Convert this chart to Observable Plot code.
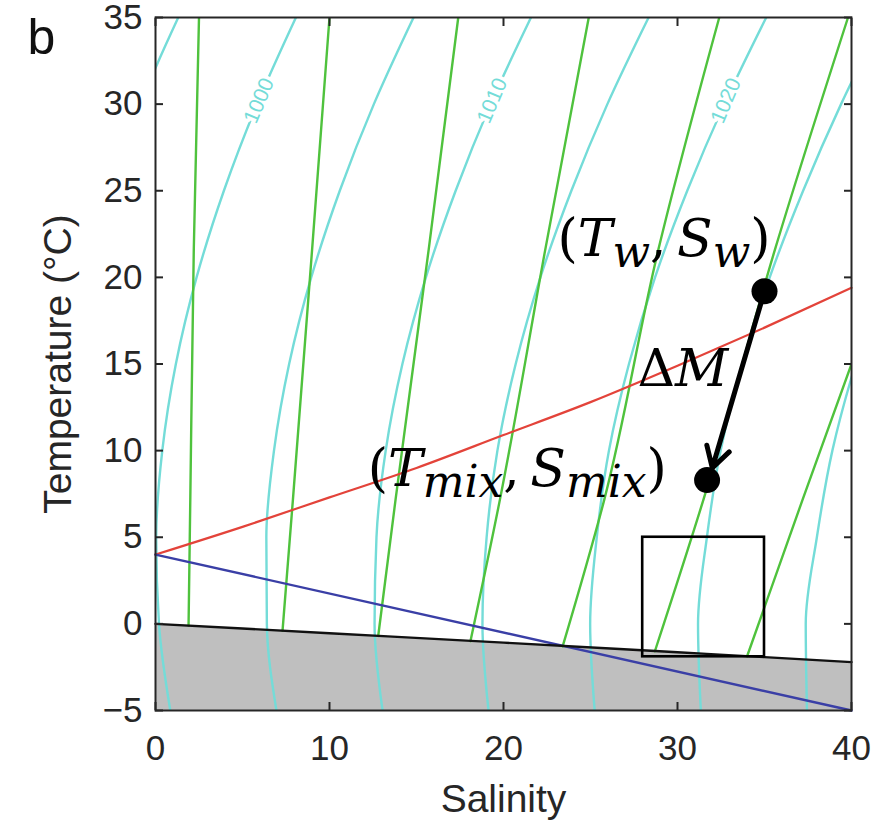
<!DOCTYPE html>
<html><head><meta charset="utf-8">
<script src="https://cdn.jsdelivr.net/npm/d3@7"></script>
<script src="https://cdn.jsdelivr.net/npm/@observablehq/plot@0.6"></script>
<style>
body{margin:0;background:#fff;}
#chart{width:887px;height:822px;}
</style></head><body><div id="chart"></div>
<script>
// ---------- data ----------
const xDomain = [0, 40];
const yDomain = [-5, 35];
const xTicks = [0, 10, 20, 30, 40];
const yTicks = [-5, 0, 5, 10, 15, 20, 25, 30, 35];
const xLabel = "Salinity";
const yLabel = "Temperature (°C)";
const panelLetter = "b";

// density contours (kg/m3): salinity at each temperature
const contourT = [-5, 0, 5, 10, 15, 20, 25, 30, 35];
const rho995T = [30, 32.5, 35];
const rho995S = [-0.87, 0.18, 1.31];
const rho1000S = [0.85, 0.20, 0.04, 0.39, 1.17, 2.36, 3.93, 5.84, 8.07];
const rho1005S = [6.95, 6.40, 6.37, 6.81, 7.68, 8.95, 10.59, 12.55, 14.83];
const rho1010S = [13.05, 12.59, 12.70, 13.23, 14.19, 15.54, 17.25, 19.26, 21.58];
const rho1015S = [19.14, 18.79, 19.03, 19.65, 20.70, 22.12, 23.90, 25.97, 28.34];
const rho1020S = [25.24, 24.98, 25.36, 26.06, 27.21, 28.71, 30.56, 32.69, 35.10];
const rho1025S = [31.34, 31.18, 31.69, 32.48, 33.72, 35.30, 37.22, 39.40, 41.85];
const rho1030S = [37.44, 37.37, 38.01, 38.90, 40.23, 41.89, 43.88, 46.10, 48.60];

// contour labels
const contourLabelText = ["1000", "1010", "1020"];
const contourLabelS = [5.95, 19.35, 32.78];
const contourLabelT = [30.2, 30.2, 30.2];

// green lines
const green1S = [1.9, 2.0, 2.2, 2.5];   const green1T = [-0.1, 7.2, 21.6, 35];
const green2S = [7.3, 7.9, 9.0, 10.0];  const green2T = [-0.4, 7.2, 21.6, 35];
const green3S = [12.8, 13.8, 15.7, 17.4]; const green3T = [-0.7, 7.2, 21.6, 35];
const green4S = [18.1, 19.8, 22.4, 24.9]; const green4T = [-1.0, 7.2, 21.6, 35];
const green5S = [23.4, 25.8, 28.9, 32.4]; const green5T = [-1.3, 7.2, 21.6, 35];
const green6S = [28.7, 31.5, 35.6, 39.8]; const green6T = [-1.58, 7.2, 21.6, 35];
const green7S = [34.0, 37.2, 40.0];     const green7T = [-1.87, 7.2, 15.0];

// freezing line
const freezeS = [0, 10, 20, 30, 35, 40];
const freezeT = [0, -0.54, -1.08, -1.64, -1.92, -2.21];
// temperature of maximum density (blue)
const tmdS = [0, 40];
const tmdT = [4.0, -5.0];
// red line
const redS = [0, 5, 10, 15, 20, 25, 30, 35, 40];
const redT = [4.0, 5.6, 7.3, 9.0, 10.9, 12.8, 14.9, 17.1, 19.4];
// box
const boxS = [28, 35];
const boxT = [-1.9, 5];
// points
const pointName = ["w", "mix"];
const pointS = [35.0, 31.7];
const pointT = [19.2, 8.3];
const arrowEndS = 32.0, arrowEndT = 9.0;
// annotations
const annoText = ["(T_w,\u2009S_w)", "ΔM", "(T_mix,\u2009S_mix)"];
const annoS = [23.1, 27.7, 12.2];
const annoT = [22.2, 14.7, 8.9];

// ---------- tables ----------
const zipLine = (id, S, T) => S.map((s, i) => ({id, S: s, T: T[i]}));
const contours = [
  ...zipLine(995, rho995S, rho995T),
  ...zipLine(1000, rho1000S, contourT),
  ...zipLine(1005, rho1005S, contourT),
  ...zipLine(1010, rho1010S, contourT),
  ...zipLine(1015, rho1015S, contourT),
  ...zipLine(1020, rho1020S, contourT),
  ...zipLine(1025, rho1025S, contourT),
  ...zipLine(1030, rho1030S, contourT)
];
const greens = [
  ...zipLine(1, green1S, green1T), ...zipLine(2, green2S, green2T),
  ...zipLine(3, green3S, green3T), ...zipLine(4, green4S, green4T),
  ...zipLine(5, green5S, green5T), ...zipLine(6, green6S, green6T),
  ...zipLine(7, green7S, green7T)
];
const freeze = zipLine("f", freezeS, freezeT);
const tmd = zipLine("m", tmdS, tmdT);
const red = zipLine("r", redS, redT);
const labels = contourLabelText.map((t, i) => ({t, S: contourLabelS[i], T: contourLabelT[i]}));
const pts = pointName.map((n, i) => ({n, S: pointS[i], T: pointT[i]}));
const annos = annoText.map((t, i) => ({t, S: annoS[i], T: annoT[i]}));
const box = [{S1: boxS[0], S2: boxS[1], T1: boxT[0], T2: boxT[1]}];
const arrow = [{S1: pointS[0], T1: pointT[0], S2: arrowEndS, T2: arrowEndT}];

const sans = "Liberation Sans, Arial, Helvetica, sans-serif";
const axisColor = "#262626";
const cyan = "#74dcd8";
const green = "#4fc23d";
const tk = 8; // inward tick length
const noLabel = () => "";

const chart = Plot.plot({
  width: 887, height: 822,
  marginLeft: 155, marginRight: 36, marginTop: 17, marginBottom: 112,
  style: {fontFamily: sans, background: "white", overflow: "visible"},
  x: {domain: xDomain},
  y: {domain: yDomain},
  marks: [
    Plot.areaY(freeze, {x: "S", y1: yDomain[0], y2: "T", fill: "#bfbfbf"}),
    Plot.line(contours, {x: "S", y: "T", z: "id", stroke: cyan, strokeWidth: 2.4, curve: "monotone-y", clip: true}),
    Plot.text(labels, {x: "S", y: "T", text: "t", rotate: -67, fontSize: 21, fill: cyan, stroke: "white", strokeWidth: 7, fontFamily: sans}),
    Plot.line(greens, {x: "S", y: "T", z: "id", stroke: green, strokeWidth: 2.4, curve: "monotone-y", clip: true}),
    Plot.line(red, {x: "S", y: "T", stroke: "#e3433a", strokeWidth: 2.2, curve: "monotone-x"}),
    Plot.line(tmd, {x: "S", y: "T", stroke: "#3a3fa6", strokeWidth: 2.4}),
    Plot.line(freeze, {x: "S", y: "T", stroke: "#111", strokeWidth: 2.4, curve: "monotone-x"}),
    Plot.rect(box, {x1: "S1", x2: "S2", y1: "T1", y2: "T2", fill: "none", stroke: "black", strokeWidth: 2.6}),
    Plot.frame({stroke: axisColor, strokeWidth: 2}),
    // tick labels
    Plot.axisX({anchor: "bottom", ticks: xTicks, tickSize: 0, tickPadding: 25, fontSize: 35, label: null, color: axisColor}),
    Plot.axisY({anchor: "left", ticks: yTicks, tickSize: 0, tickPadding: 13, fontSize: 35, label: null, color: axisColor}),
    // inward tick marks on all four sides
    Plot.axisX({anchor: "bottom", ticks: xTicks, tickSize: tk, dy: -tk, tickFormat: noLabel, label: null, color: axisColor, strokeWidth: 2}),
    Plot.axisX({anchor: "top", ticks: xTicks, tickSize: tk, dy: tk, tickFormat: noLabel, label: null, color: axisColor, strokeWidth: 2}),
    Plot.axisY({anchor: "left", ticks: yTicks, tickSize: tk, dx: tk, tickFormat: noLabel, label: null, color: axisColor, strokeWidth: 2}),
    Plot.axisY({anchor: "right", ticks: yTicks, tickSize: tk, dx: -tk, tickFormat: noLabel, label: null, color: axisColor, strokeWidth: 2}),
    Plot.text([xLabel], {frameAnchor: "bottom", textAnchor: "middle", lineAnchor: "middle", text: d => d, dy: 89, fontSize: 39, fill: axisColor}),
    Plot.text([yLabel], {frameAnchor: "left", textAnchor: "middle", lineAnchor: "middle", text: d => d, rotate: -90, dx: -97, fontSize: 39, fill: axisColor}),
    Plot.text([panelLetter], {frameAnchor: "top-left", textAnchor: "middle", lineAnchor: "middle", text: d => d, dx: -114, dy: 20, fontSize: 50, fill: "#111"}),
    Plot.arrow(arrow, {x1: "S1", y1: "T1", x2: "S2", y2: "T2", stroke: "black", strokeWidth: 5, headLength: 7, insetStart: 10}),
    Plot.dot(pts, {x: "S", y: "T", r: 13, fill: "black"}),
    Plot.text(annos, {x: "S", y: "T", text: "t", textAnchor: "start", lineAnchor: "middle", fontSize: 52, fill: "black", fontFamily: "DejaVu Serif, serif"})
  ]
});

// math-style formatting: italic letters, upright punctuation, subscripts
const NS = "http://www.w3.org/2000/svg";
d3.select(chart).selectAll("text").each(function () {
  const s = this.textContent;
  if (!(s.includes("_") || s.includes("Δ"))) return;
  this.textContent = "";
  const re = /_(\w+)|([A-Za-z]+)|([^A-Za-z_]+)/g;
  let m, up = 0;
  const shift = 11;
  while ((m = re.exec(s))) {
    const t = document.createElementNS(NS, "tspan");
    if (m[1] !== undefined) {
      t.textContent = m[1];
      t.setAttribute("font-style", "italic");
      t.setAttribute("font-size", "44");
      t.setAttribute("dy", shift);
      up = shift;
    } else {
      t.textContent = m[2] ?? m[3];
      if (m[2]) t.setAttribute("font-style", "italic");
      if (up) { t.setAttribute("dy", -up); up = 0; }
    }
    this.appendChild(t);
  }
});

document.getElementById("chart").appendChild(chart);
</script></body></html>
